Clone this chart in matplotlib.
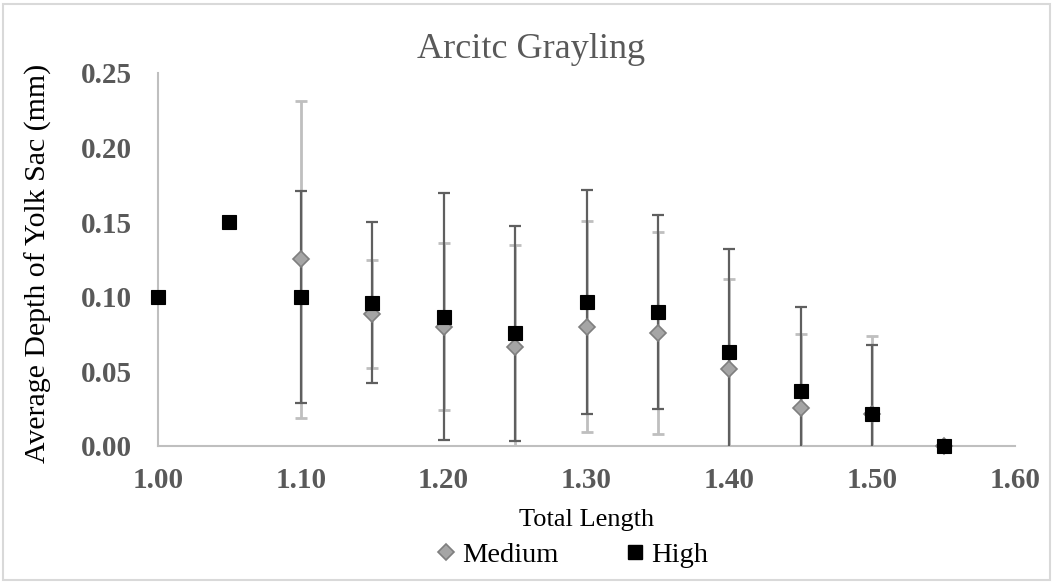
import numpy as np
import matplotlib.pyplot as plt
from matplotlib.patches import Rectangle
from matplotlib.lines import Line2D

plt.rcParams['font.family'] = ['Liberation Serif', 'DejaVu Serif']

nan = np.nan
length = [1.00, 1.05, 1.10, 1.15, 1.20, 1.25, 1.30, 1.35, 1.40, 1.45, 1.50, 1.55]
medium = [nan, nan, 0.125, 0.0885, 0.080, 0.0666, 0.080, 0.0755, 0.0516, 0.0253, 0.0214, 0.0]
medium_err = [nan, nan, 0.106, 0.036, 0.056, 0.068, 0.0706, 0.0676, 0.060, 0.050, 0.052, nan]
high = [0.10, 0.15, 0.10, 0.096, 0.0867, 0.0755, 0.0967, 0.0896, 0.0632, 0.0371, 0.0214, 0.0]
high_err = [nan, nan, 0.071, 0.054, 0.083, 0.072, 0.075, 0.065, 0.069, 0.056, 0.046, nan]

x_ticks = [1.00, 1.10, 1.20, 1.30, 1.40, 1.50, 1.60]
y_ticks = [0.00, 0.05, 0.10, 0.15, 0.20, 0.25]

fig = plt.figure(figsize=(10.53, 5.82), dpi=100)
ax = fig.add_axes([0.150, 0.2337, 0.814, 0.641])

# error bars first (light for medium, dark for high)
ax.errorbar(length, medium, yerr=medium_err, fmt='none', ecolor='#bfbfbf',
            elinewidth=2, capsize=4.3, capthick=2, zorder=2)
ax.errorbar(length, high, yerr=high_err, fmt='none', ecolor='#5f5f5f',
            elinewidth=1.6, capsize=4.3, capthick=1.6, zorder=3)

ax.plot(length, medium, 'D', color='#a5a5a5', mec='#7f7f7f', mew=1.2, ms=8,
        linestyle='none', clip_on=False, zorder=4)
ax.plot(length, high, 's', color='black', mec='black', mew=0.8, ms=10.5,
        linestyle='none', clip_on=False, zorder=5)

ax.set_xlim(1.00, 1.60)
ax.set_ylim(0, 0.25)
ax.set_xticks(x_ticks)
ax.set_xticklabels([f'{v:.2f}' for v in x_ticks])
ax.set_yticks(y_ticks)
ax.set_yticklabels([f'{v:.2f}' for v in y_ticks])
ax.tick_params(length=0, labelsize=21, labelcolor='#595959')
ax.tick_params(axis='x', pad=15)
ax.tick_params(axis='y', pad=19)
for lab in ax.get_xticklabels() + ax.get_yticklabels():
    lab.set_fontweight('bold')

for s in ['top', 'right']:
    ax.spines[s].set_visible(False)
for s in ['left', 'bottom']:
    ax.spines[s].set_color('#bfbfbf')
    ax.spines[s].set_linewidth(1.5)

fig.text(531 / 1053, 1 - 58 / 582, 'Arcitc Grayling', ha='center', va='baseline',
         fontsize=26, color='#595959')
fig.text(38 / 1053, 1 - 263 / 582, 'Average Depth of Yolk Sac (mm)', rotation=90,
         ha='center', va='center', fontsize=21.5)
fig.text(587 / 1053, 1 - 520 / 582, 'Total Length', ha='center', va='center', fontsize=19)

handles = [
    Line2D([], [], marker='D', color='#a5a5a5', mec='#7f7f7f', mew=1.2, ms=8, linestyle='none'),
    Line2D([], [], marker='s', color='black', ms=10, linestyle='none'),
]
fig.legend(handles, ['Medium', 'High'], loc='center', ncol=2, frameon=False,
           bbox_to_anchor=(570 / 1053, 1 - 555 / 582), fontsize=20.5,
           handletextpad=0.05, columnspacing=2.2, handlelength=1.0)

fig.patches.append(Rectangle((3 / 1053, 2 / 582), 1047 / 1053, 576 / 582,
                             transform=fig.transFigure, fill=False,
                             edgecolor='#d9d9d9', linewidth=1.5))

fig.savefig('out.png', dpi=100)
